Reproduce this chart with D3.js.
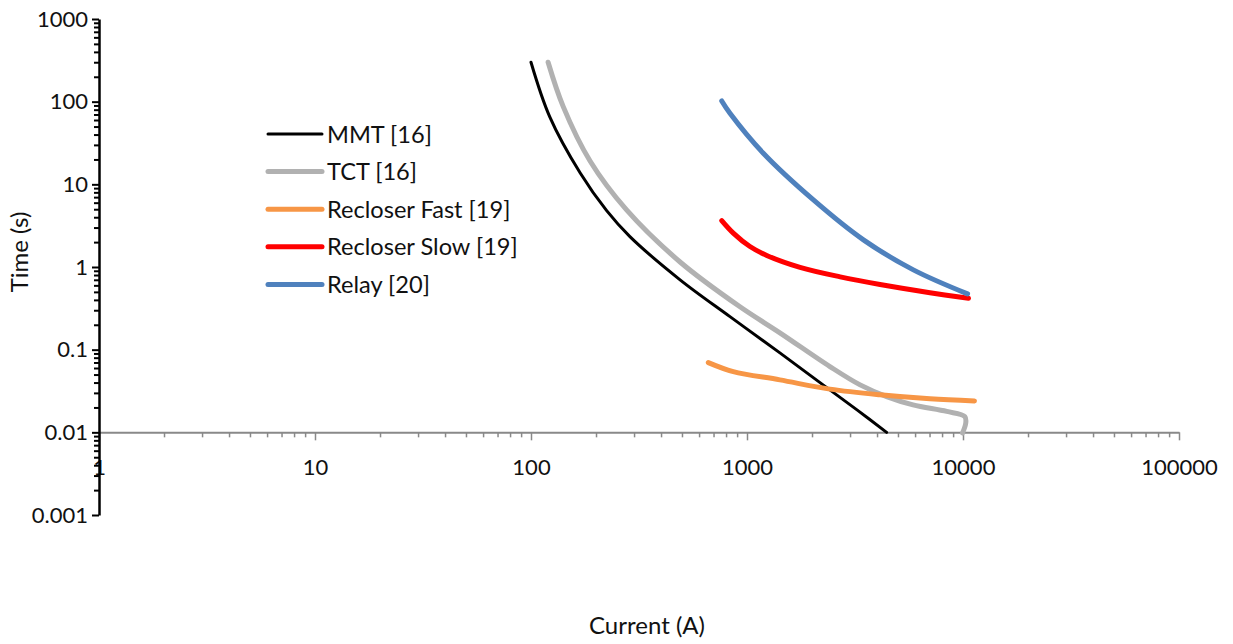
<!DOCTYPE html>
<html>
<head>
<meta charset="utf-8">
<script src="https://cdn.jsdelivr.net/npm/d3@7"></script>
<style>
    body { margin: 0; background: #fff; }
    text { font-family: Lato, "Open Sans", sans-serif; fill: #111; }
</style>
</head>
<body>
<svg id="chart" width="1233" height="644"></svg>
<script>
// curve data (current in A, time in s)
let mmtCurrent = [100, 122, 169, 224, 287, 490, 834, 1420, 2250, 3230, 4430];
let mmtTime = [300, 66, 13.7, 4.8, 2.33, 0.70, 0.251, 0.0915, 0.0375, 0.0187, 0.0100];

let tctCurrent = [120, 141, 188, 277, 490, 928, 1420, 2420, 3340, 4430, 5870, 8410, 10200, 10300, 9950];
let tctTime = [300, 87, 19, 4.9, 1.15, 0.33, 0.16, 0.0625, 0.0375, 0.0271, 0.0215, 0.0179, 0.0155, 0.013, 0.0098];

let fastCurrent = [662, 864, 1420, 2420, 4130, 7030, 11300];
let fastTime = [0.0698, 0.0543, 0.0431, 0.0333, 0.0284, 0.0254, 0.0240];

let slowCurrent = [764, 864, 1032, 1234, 1760, 2700, 4130, 7030, 10600];
let slowTime = [3.64, 2.57, 1.77, 1.38, 0.99, 0.76, 0.614, 0.489, 0.418];

let relayCurrent = [764, 834, 1190, 2030, 3460, 5890, 10500];
let relayTime = [102, 72.4, 23.8, 6.48, 2.13, 0.923, 0.473];

let seriesNames = ["MMT [16]", "TCT [16]", "Recloser Fast [19]", "Recloser Slow [19]", "Relay [20]"];
let seriesColors = ["#000000", "#b1b1b1", "#f79646", "#ff0000", "#4f81bd"];
let seriesWidths = [3, 5, 5, 5, 5];

let xTickValues = [1, 10, 100, 1000, 10000, 100000];
let yTickValues = [0.001, 0.01, 0.1, 1, 10, 100, 1000];

let svg = d3.select("#chart");

let x = d3.scaleLog().domain([1, 100000]).range([99, 1179]);
let y = d3.scaleLog().domain([0.001, 1000]).range([515, 19]);

// minor ticks 2..9 inside each decade
function minorTicks(list) {
    let out = [];
    for (let i = 0; i < list.length - 1; i++) {
        for (let k = 2; k <= 9; k++) out.push(list[i] * k);
    }
    return out;
}

// x axis, crossing at 0.01
let xAxisG = svg.append("g").attr("transform", "translate(0," + y(0.01) + ")");
xAxisG.append("g")
    .call(d3.axisBottom(x).tickValues(minorTicks(xTickValues)).tickSize(5).tickSizeOuter(0).tickFormat(""))
    .call(g => g.select(".domain").remove());
xAxisG.append("g")
    .call(d3.axisBottom(x).tickValues(xTickValues).tickSize(8).tickSizeOuter(0).tickPadding(19)
        .tickFormat(d3.format("d")))
    .call(g => g.select(".domain").attr("stroke", "#898989").attr("stroke-width", 2));
xAxisG.selectAll("line").attr("stroke", "#898989").attr("stroke-width", 1.5);
xAxisG.selectAll("text").style("font-size", "22px").attr("fill", "#111");

// y axis
let yAxisG = svg.append("g").attr("transform", "translate(" + x(1) + ",0)");
yAxisG.append("g")
    .call(d3.axisLeft(y).tickValues(minorTicks(yTickValues)).tickSize(5).tickSizeOuter(0).tickFormat(""))
    .call(g => g.select(".domain").remove());
yAxisG.append("g")
    .call(d3.axisLeft(y).tickValues(yTickValues).tickSize(7).tickSizeOuter(0).tickPadding(4)
        .tickFormat(d => d >= 1 ? d3.format("d")(d) : String(+d.toPrecision(1))))
    .call(g => g.select(".domain").attr("stroke", "#000").attr("stroke-width", 2.5));
yAxisG.selectAll("line").attr("stroke", "#000").attr("stroke-width", 2);
yAxisG.selectAll("text").style("font-size", "22px").attr("fill", "#111");

// curves
let allSeries = [
    d3.zip(mmtCurrent, mmtTime),
    d3.zip(tctCurrent, tctTime),
    d3.zip(fastCurrent, fastTime),
    d3.zip(slowCurrent, slowTime),
    d3.zip(relayCurrent, relayTime)
];

let line = d3.line()
    .x(d => x(d[0]))
    .y(d => y(d[1]))
    .curve(d3.curveCatmullRom.alpha(0.5));

svg.append("g").selectAll("path")
    .data(allSeries)
    .enter()
    .append("path")
    .attr("d", line)
    .attr("fill", "none")
    .attr("stroke", (d, i) => seriesColors[i])
    .attr("stroke-width", (d, i) => seriesWidths[i])
    .attr("stroke-linecap", "round")
    .attr("stroke-linejoin", "round");

// legend
let legend = svg.append("g").attr("transform", "translate(268,134)");
let rows = legend.selectAll("g")
    .data(seriesNames)
    .enter()
    .append("g")
    .attr("transform", (d, i) => "translate(0," + (i * 37.6) + ")");
rows.append("line")
    .attr("x1", 0).attr("x2", 54)
    .attr("stroke", (d, i) => seriesColors[i])
    .attr("stroke-width", (d, i) => seriesWidths[i])
    .attr("stroke-linecap", "round");
rows.append("text")
    .attr("x", 59)
    .attr("dy", "0.36em")
    .style("font-size", "23.6px")
    .text(d => d);

// axis titles
svg.append("text")
    .attr("x", 647)
    .attr("y", 634)
    .attr("text-anchor", "middle")
    .style("font-size", "24px")
    .text("Current (A)");

svg.append("text")
    .attr("transform", "translate(28,252) rotate(-90)")
    .attr("text-anchor", "middle")
    .style("font-size", "24px")
    .text("Time (s)");
</script>
</body>
</html>
